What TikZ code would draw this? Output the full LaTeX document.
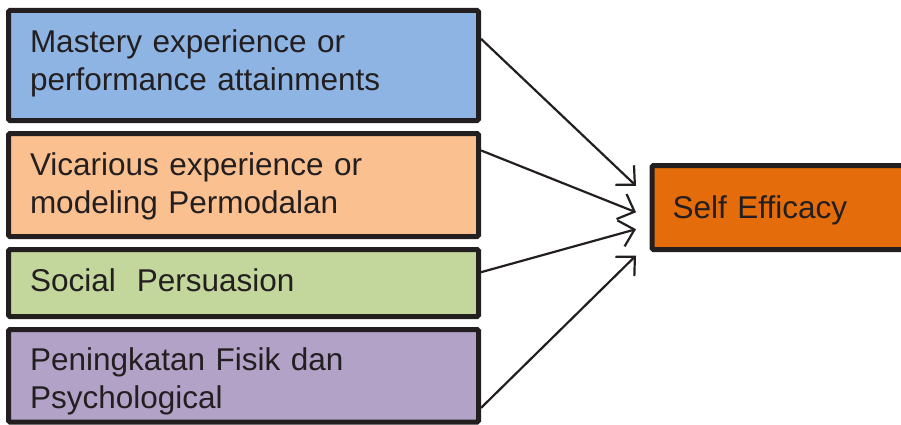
\documentclass[tikz,border=0pt]{standalone}
\usepackage{fontspec}
\setmainfont{Liberation Sans}
\usetikzlibrary{calc,arrows.meta}
\definecolor{ink}{HTML}{231F20}
\definecolor{cblue}{HTML}{8EB4E3}
\definecolor{corange}{HTML}{FAC090}
\definecolor{cgreen}{HTML}{C3D69B}
\definecolor{cpurple}{HTML}{B3A2C7}
\definecolor{cself}{HTML}{E46C0A}
\tikzset{
  factor/.style={draw=ink, line width=5pt, rounded corners=1.5pt, rectangle,
    minimum width=470pt, text width=427pt, inner xsep=21.5pt, inner ysep=0pt,
    align=left, text=ink, font=\fontsize{31.5}{38}\selectfont, text height=23pt},
  selfbox/.style={draw=ink, fill=cself, line width=5pt, rounded corners=1.5pt, rectangle,
    minimum width=300pt, minimum height=84pt, text width=259pt, inner xsep=20.5pt,
    inner ysep=0pt, align=left, text=ink, font=\fontsize{31.5}{38}\selectfont, anchor=west,
    text height=23pt, text depth=2pt},
  link/.style={draw=ink, line width=2.2pt, -{Straight Barb[length=14pt,width=27pt,line width=2.2pt]}}
}
\begin{document}
\begin{tikzpicture}[x=1pt,y=-1pt]
\useasboundingbox (0,0) rectangle (901,425);
\clip (0,0) rectangle (901,425);
\node[factor, fill=cblue, minimum height=110pt, text depth=48pt] (b1) at (243.5,65.5)
  {Mastery experience or\\performance attainments};
\node[factor, fill=corange, minimum height=103pt, text depth=43pt] (b2) at (243.5,185)
  {Vicarious experience or\\modeling Permodalan};
\node[factor, fill=cgreen, minimum height=67pt, text depth=7pt] (b3) at (243.5,283)
  {Social\ \ Persuasion};
\node[factor, fill=cpurple, minimum height=92.5pt, text depth=34.5pt] (b4) at (243.5,375.75)
  {Peningkatan Fisik dan\\Psychological};
\node[selfbox] (s) at (649.5,207.5) {Self Efficacy};
\draw[link] ($(b1.north east)!0.268!(b1.south east)$) -- ($(s.north west)!0.256!(s.south west)+(-13.5,0)$);
\draw[link] ($(b2.north east)!0.18!(b2.south east)$) -- ($(s.north west)!0.554!(s.south west)+(-13.5,0)$);
\draw[link] ($(b3.north east)!0.35!(b3.south east)$) -- ($(s.north west)!0.744!(s.south west)+(-13.5,0)$);
\draw[link] ($(b4.north east)!0.83!(b4.south east)$) -- ($(s.north west)!1.04!(s.south west)+(-13.5,0)$);
\end{tikzpicture}
\end{document}
